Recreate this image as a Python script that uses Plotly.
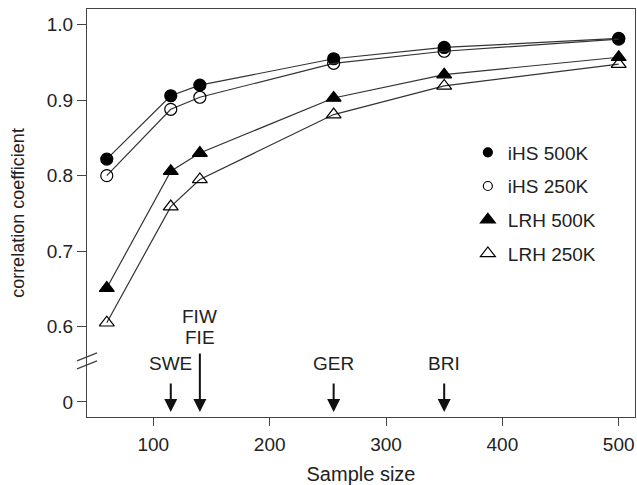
import plotly.graph_objects as go

# ---- data ----
sample_size = [60, 115, 140, 255, 350, 500]
ihs_500k = [0.822, 0.906, 0.920, 0.955, 0.970, 0.982]
ihs_250k = [0.800, 0.888, 0.904, 0.949, 0.965, 0.981]
lrh_500k = [0.651, 0.806, 0.830, 0.903, 0.934, 0.957]
lrh_250k = [0.605, 0.759, 0.795, 0.881, 0.919, 0.948]

series_names = ["iHS 500K", "iHS 250K", "LRH 500K", "LRH 250K"]

# broken y axis: the "0" tick is drawn at position 0.5
y_tickvals = [0.5, 0.6, 0.7, 0.8, 0.9, 1.0]
y_ticktext = ["0", "0.6", "0.7", "0.8", "0.9", "1.0"]
x_tickvals = [100, 200, 300, 400, 500]

# populations marked by arrows
pop_x = [115, 140, 255, 350]
pop_labels = ["SWE", "FIW<br>FIE", "GER", "BRI"]

FONT = "Liberation Sans, Arial, sans-serif"
TXT = "#222222"
AX = "#444444"
LINE = "#333333"

YMIN, YMAX = 0.48, 1.021
XMIN, XMAX = 43, 514
PLOT_H = 408
PLOT_W = 548
px_y = (YMAX - YMIN) / PLOT_H  # data units per pixel

styles = [
    dict(symbol="circle", size=12, leg_size=9),
    dict(symbol="circle-open", size=12, leg_size=9),
    dict(symbol="triangle-up", size=13, leg_size=13),
    dict(symbol="triangle-up-open", size=13, leg_size=13),
]
series = [ihs_500k, ihs_250k, lrh_500k, lrh_250k]

fig = go.Figure()
for name, vals, st in zip(series_names, series, styles):
    fig.add_trace(go.Scatter(
        x=sample_size, y=vals, mode="lines+markers", name=name,
        showlegend=False, legendgroup=name,
        line=dict(color=LINE, width=1.2),
        marker=dict(symbol=st["symbol"], size=st["size"], color="black",
                    line=dict(color="black", width=1.2)),
        cliponaxis=False,
    ))
for name, st in zip(series_names, styles):
    fig.add_trace(go.Scatter(
        x=[None], y=[None], mode="markers", name=name, legendgroup=name,
        showlegend=True,
        marker=dict(symbol=st["symbol"], size=st["leg_size"], color="black",
                    line=dict(color="black", width=1.2)),
    ))

# arrows and population labels
tip = 0.5 - 10 * px_y
lab_font = dict(size=19, color=TXT, family=FONT)
for xv, lab in zip(pop_x, pop_labels):
    two = "<br>" in lab
    tail = 0.5 + (50 if two else 20) * px_y
    fig.add_annotation(x=xv, y=tip, ax=xv, ay=tail, xref="x", yref="y",
                       axref="x", ayref="y", text="", showarrow=True,
                       arrowhead=2, arrowsize=1.3, arrowwidth=2,
                       arrowcolor="#111111", standoff=0)
    if two:
        l1, l2 = lab.split("<br>")
        fig.add_annotation(x=xv, y=0.5 + 85 * px_y, text=l1, showarrow=False,
                           xref="x", yref="y", font=lab_font)
        fig.add_annotation(x=xv, y=0.5 + 64 * px_y, text=l2, showarrow=False,
                           xref="x", yref="y", font=lab_font)
    else:
        fig.add_annotation(x=xv, y=0.5 + 38 * px_y, text=lab, showarrow=False,
                           xref="x", yref="y", font=lab_font)

# axis break marks on the left axis
brk = (0.5 + 41 * px_y - YMIN) / (YMAX - YMIN)
dy = 1.0 / PLOT_H
dx = 1.0 / PLOT_W
for off in (-4, 4):
    fig.add_shape(type="line", xref="paper", yref="paper",
                  x0=-10 * dx, x1=10 * dx,
                  y0=brk + (off - 4) * dy, y1=brk + (off + 4) * dy,
                  line=dict(color=AX, width=1.5))

fig.update_layout(
    width=637, height=485,
    margin=dict(l=87, r=2, t=9, b=68),
    paper_bgcolor="white", plot_bgcolor="white",
    font=dict(family=FONT, color=TXT, size=19),
    legend=dict(x=0.695, y=0.695, xanchor="left", yanchor="top",
                bgcolor="rgba(0,0,0,0)", font=dict(size=19, color=TXT, family=FONT),
                traceorder="grouped", tracegroupgap=6, itemclick=False),
)
fig.update_xaxes(range=[XMIN, XMAX], tickvals=x_tickvals, ticks="outside", ticklen=8,
                 tickwidth=1.3, tickcolor=AX, showline=True, linecolor=AX, linewidth=1.3,
                 mirror=True, showgrid=False, zeroline=False, ticklabelstandoff=2,
                 tickfont=dict(size=19, color=TXT, family=FONT),
                 title=dict(text="Sample size", font=dict(size=20, color=TXT, family=FONT), standoff=15))
fig.update_yaxes(range=[YMIN, YMAX], tickvals=y_tickvals, ticktext=y_ticktext,
                 ticks="outside", ticklen=9, tickwidth=1.3, tickcolor=AX, showline=True,
                 linecolor=AX, linewidth=1.3, mirror=True, showgrid=False, zeroline=False,
                 tickfont=dict(size=19, color=TXT, family=FONT),
                 title=dict(text="correlation coefficient", font=dict(size=18, color=TXT, family=FONT), standoff=17))

fig.write_html("out.html", config={"displayModeBar": False},
               post_script="document.body.style.margin='0';document.body.style.overflow='hidden';")
